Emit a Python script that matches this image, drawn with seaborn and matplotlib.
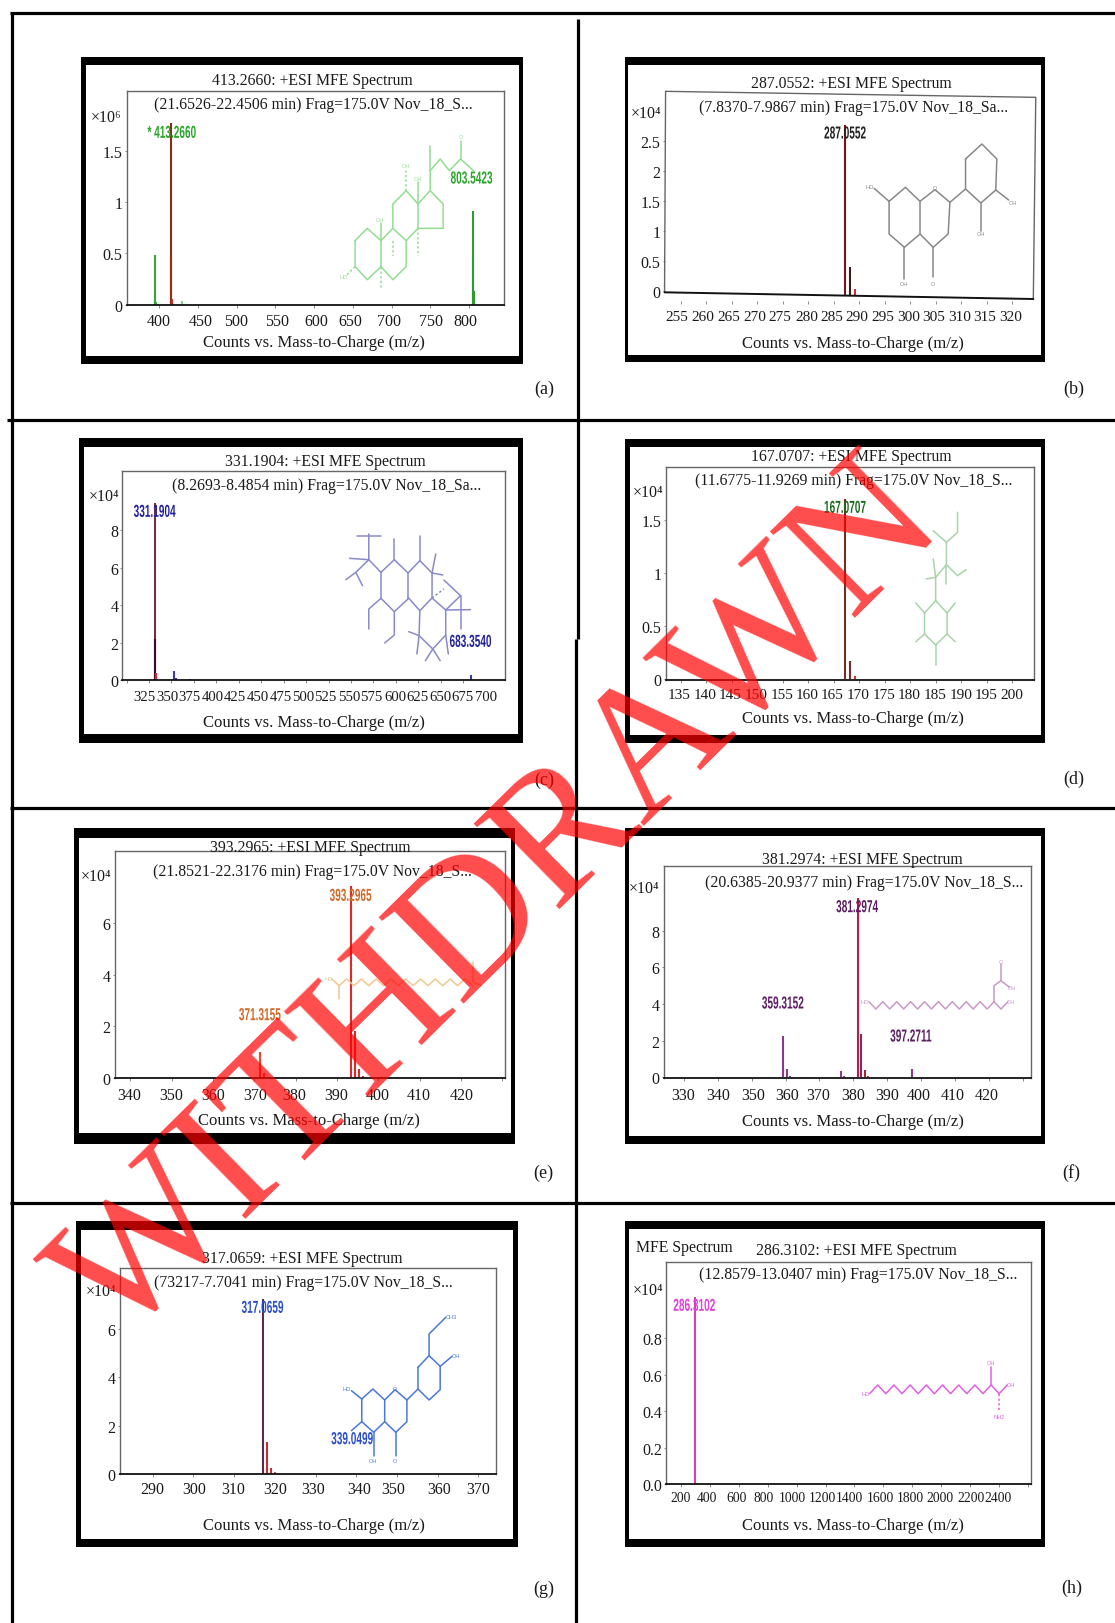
#seaborn
import numpy as np
import pandas as pd
import seaborn as sns
import matplotlib.pyplot as plt
from matplotlib.patches import Rectangle
from matplotlib.patheffects import AbstractPathEffect
from matplotlib.transforms import Affine2D

W, H = 1115, 1624

# peaks
mz_a = [394.3, 395.3, 396.3, 415.0, 416.0, 417.0, 430.0, 804.5, 805.0, 806.0]
counts_a = [0.487, 0.12, 0.03, 1.77, 0.47, 0.06, 0.04, 0.91, 0.47, 0.13]
colors_a = ['#35a835', '#35a835', '#35a835', '#8a2a18', '#a02818', '#c03020', '#7fd07f', '#2f9a2f', '#2f9a2f', '#2f9a2f']

mz_b = [287.2, 288.2, 289.2]
counts_b = [2.76, 0.4, 0.03]
colors_b = ['#7a1414', '#3a1a1a', '#d03030']

mz_c = [331.2, 332.2, 333.2, 353.0, 355.0, 371.0, 684.0]
counts_c = [9.47, 2.19, 0.37, 0.5, 0.1, 0.04, 0.27]
colors_c = ['#7a2a4a', '#3a0a2a', '#e02828', '#3a3ab0', '#3a3ab0', '#3a3ab0', '#3a3ab0']

mz_d = [167.2, 168.2, 169.2]
counts_d = [1.7, 0.17, 0.03]
colors_d = ['#6b3320', '#7a2a2a', '#d03030']

mz_e = [371.5, 372.4, 393.3, 394.3, 395.3, 396.3]
counts_e = [0.98, 0.2, 7.45, 1.82, 0.33, 0.05]
colors_e = ['#e84a2a', '#e84a2a', '#e02828', '#e02828', '#e02828', '#e02828']

mz_f = [359.3, 360.3, 361.4, 376.5, 377.4, 381.3, 382.3, 383.4, 384.3, 397.3]
counts_f = [2.27, 0.45, 0.05, 0.35, 0.05, 9.8, 2.36, 0.4, 0.1, 0.45]
colors_f = ['#8a3a8a', '#8a3a8a', '#8a3a8a', '#8a3a8a', '#8a3a8a', '#b81d4a', '#8a2a5a', '#a02a3a', '#c03030', '#8a3a8a']

mz_g = [317.07, 318.1, 319.1, 320.0]
counts_g = [7.25, 1.32, 0.25, 0.06]
colors_g = ['#5a2a4a', '#c03030', '#c03030', '#d05050']

mz_h = [294.0]
counts_h = [1.025]
colors_h = ['#d040c0']

titles = ['413.2660: +ESI MFE Spectrum', '287.0552: +ESI MFE Spectrum', '331.1904: +ESI MFE Spectrum',
          '167.0707: +ESI MFE Spectrum', '393.2965: +ESI MFE Spectrum', '381.2974: +ESI MFE Spectrum',
          '317.0659: +ESI MFE Spectrum', '286.3102: +ESI MFE Spectrum']
subtitles = ['(21.6526-22.4506 min) Frag=175.0V Nov_18_S...', '(7.8370-7.9867 min) Frag=175.0V Nov_18_Sa...',
             '(8.2693-8.4854 min) Frag=175.0V Nov_18_Sa...', '(11.6775-11.9269 min) Frag=175.0V Nov_18_S...',
             '(21.8521-22.3176 min) Frag=175.0V Nov_18_S...', '(20.6385-20.9377 min) Frag=175.0V Nov_18_S...',
             '(73217-7.7041 min) Frag=175.0V Nov_18_S...', '(12.8579-13.0407 min) Frag=175.0V Nov_18_S...']
xlabel = 'Counts vs. Mass-to-Charge (m/z)'

# geometry below is in crop units of the zoomed reference, relative to a panel offset
panels = [
    dict(tag='(a)', off=(0, 0), frame=(220, 175, 1415, 1095), inner=(232, 198, 1403, 1072), box=(342, 277, 1362, 917),
         mz=mz_a, counts=counts_a, colors=colors_a,
         ticks=np.arange(400, 801, 50), tick_px=(430, 1268), lab_px=[428, 543, 637, 750, 855, 947, 1052, 1165, 1258], lab_y=965,
         y0=917, yunit=308, yticks=[0, 0.5, 1, 1.5], ylabs=['0', '0.5', '1', '1.5'], exp='×10⁶', exp_pos=(328, 355),
         title=(843, 243), sub=(848, 315), xl=(848, 1030), tagpos=(1472, 1168)),
    dict(tag='(b)', off=(570, 0), frame=(158, 175, 1368, 1090), inner=(168, 198, 1356, 1067), box=(272, 277, 1340, 905),
         mz=mz_b, counts=counts_b, colors=colors_b, labsize=11,
         ticks=np.arange(255, 321, 5), tick_px=(318, 1272), lab_px=[308, 382, 458, 532, 605, 680, 752, 825, 900, 973, 1047, 1120, 1193, 1268], lab_y=955,
         y0=875, yunit=180, yticks=[0, 0.5, 1, 1.5, 2, 2.5], ylabs=['0', '0.5', '1', '1.5', '2', '2.5'], exp='×10⁴', exp_pos=(262, 343),
         title=(810, 252), sub=(815, 325), xl=(815, 1032), tagpos=(1448, 1168), skew=True, base=-0.07),
    dict(tag='(c)', off=(0, 420), frame=(213, 58, 1415, 972), inner=(226, 83, 1400, 945), box=(331, 155, 1365, 783),
         mz=mz_c, counts=counts_c, colors=colors_c, labsize=10.6,
         ticks=np.arange(300, 701, 25), tick_px=(342, 1313),
         lab_px=[390, 452, 513, 575, 635, 698, 760, 820, 880, 945, 1005, 1068, 1130, 1190, 1250, 1313], lab_vals=np.arange(325, 701, 25), lab_y=835,
         y0=783, yunit=56.1, yticks=[0, 2, 4, 6, 8], ylabs=['0', '2', '4', '6', '8'], exp='×10⁴', exp_pos=(322, 232),
         title=(879, 125), sub=(883, 197), xl=(848, 910), tagpos=(1472, 1080)),
    dict(tag='(d)', off=(570, 420), frame=(158, 60, 1368, 972), inner=(172, 85, 1356, 948), box=(275, 145, 1335, 782),
         mz=mz_d, counts=counts_d, colors=colors_d, labsize=11,
         ticks=np.arange(135, 201, 5), tick_px=(318, 1272), lab_px=[315, 390, 462, 535, 610, 683, 755, 830, 905, 977, 1050, 1125, 1198, 1270], lab_y=830,
         y0=780, yunit=318, yticks=[0, 0.5, 1, 1.5], ylabs=['0', '0.5', '1', '1.5'], exp='×10⁴', exp_pos=(268, 220),
         title=(810, 112), sub=(815, 183), xl=(815, 898), tagpos=(1448, 1078)),
    dict(tag='(e)', off=(0, 810), frame=(199, 57, 1393, 1005), inner=(214, 88, 1381, 973), box=(310, 127, 1365, 806),
         mz=mz_e, counts=counts_e, colors=colors_e,
         ticks=np.arange(340, 431, 10), tick_px=(352, 1358), lab_px=[350, 463, 577, 690, 795, 908, 1020, 1133, 1248], lab_vals=np.arange(340, 421, 10), lab_y=858,
         y0=806, yunit=77.3, yticks=[0, 2, 4, 6], ylabs=['0', '2', '4', '6'], exp='×10⁴', exp_pos=(300, 202),
         title=(840, 115), sub=(845, 187), xl=(835, 932), tagpos=(1470, 1090)),
    dict(tag='(f)', off=(570, 810), frame=(158, 57, 1368, 1005), inner=(170, 80, 1356, 980), box=(270, 172, 1327, 807),
         mz=mz_f, counts=counts_f, colors=colors_f,
         ticks=np.arange(330, 431, 10), tick_px=(328, 1302), lab_px=[326, 426, 526, 626, 715, 814, 912, 1002, 1100, 1200], lab_vals=np.arange(330, 421, 10), lab_y=858,
         y0=805, yunit=55, yticks=[0, 2, 4, 6, 8], ylabs=['0', '2', '4', '6', '8'], exp='×10⁴', exp_pos=(258, 238),
         title=(840, 150), sub=(845, 220), xl=(815, 936), tagpos=(1442, 1090)),
    dict(tag='(g)', off=(0, 1200), frame=(206, 67, 1400, 1043), inner=(218, 92, 1387, 1020), box=(324, 208, 1340, 826),
         mz=mz_g, counts=counts_g, colors=colors_g,
         ticks=np.arange(290, 371, 10), tick_px=(413, 1293), lab_px=[412, 525, 630, 743, 847, 970, 1063, 1188, 1292], lab_y=870,
         y0=824, yunit=72.2, yticks=[0, 2, 4, 6], ylabs=['0', '2', '4', '6'], exp='×10⁴', exp_pos=(315, 275),
         title=(816, 178), sub=(820, 248), xl=(848, 977), tagpos=(1470, 1168)),
    dict(tag='(h)', off=(570, 1200), frame=(158, 67, 1368, 1045), inner=(170, 90, 1356, 1020), box=(277, 190, 1325, 856),
         mz=mz_h, counts=counts_h, colors=colors_h, labsize=9.8,
         ticks=np.arange(200, 2601, 200), tick_px=(320, 1317), lab_px=[318, 394, 480, 558, 640, 725, 805, 893, 978, 1063, 1153, 1232], lab_vals=np.arange(200, 2401, 200), lab_y=900,
         y0=856, yunit=547.5, yticks=[0, 0.2, 0.4, 0.6, 0.8], ylabs=['0.0', '0.2', '0.4', '0.6', '0.8'], exp='×10⁴', exp_pos=(268, 272),
         title=(825, 153), sub=(830, 225), xl=(815, 977), tagpos=(1445, 1165)),
]

# peak labels: panel, text, x, y, colour
peak_labels = [
    (0, '* 413.2660', 465, 403, '#2aa52a'), (0, '803.5423', 1275, 540, '#2aa52a'),
    (1, '287.0552', 792, 405, '#222222'),
    (2, '331.1904', 418, 280, '#22229a'), (2, '683.3540', 1272, 670, '#22229a'),
    (3, '167.0707', 791, 268, '#1e6b1e'),
    (4, '393.2965', 948, 262, '#d0692a'), (4, '371.3155', 703, 620, '#d0692a'),
    (5, '381.2974', 826, 296, '#5a2060'), (5, '359.3152', 613, 585, '#5a2060'), (5, '397.2711', 981, 684, '#5a2060'),
    (6, '317.0659', 710, 328, '#2a4ec8'), (6, '339.0499', 952, 722, '#2a4ec8'),
    (7, '286.3102', 358, 322, '#e040d8'),
]


def zigzag(x0, x1, ya, yb, step):
    xs = np.arange(x0, x1 + 1, step)
    return [(x, ya if i % 2 == 0 else yb) for i, x in enumerate(xs)]


# the molecule sketches, one entry per panel: colour, bonds, dashed bonds, atom labels
mol = {
    0: ('#93dd93',
        [[(960, 725), (993, 688), (1030, 725), (1030, 803), (993, 842), (960, 803), (960, 725)],
         [(1030, 725), (1062, 688), (1098, 725), (1098, 803), (1062, 842), (1030, 803)],
         [(1062, 688), (1062, 615), (1098, 575), (1130, 615), (1130, 688), (1098, 725)],
         [(1130, 615), (1163, 575), (1198, 615), (1198, 688), (1130, 688)],
         [(1163, 575), (1163, 515), (1190, 480), (1215, 515), (1245, 480), (1280, 515)],
         [(1245, 480), (1245, 425)], [(1163, 515), (1163, 440)], [(1130, 615), (1130, 550)], [(1030, 725), (1030, 672)]],
        [[(1098, 575), (1098, 510)], [(1030, 803), (1030, 870)], [(1062, 725), (1062, 770)], [(1130, 688), (1130, 770)], [(960, 803), (935, 830)]],
        [(928, 832, 'HO'), (1028, 660, 'OH'), (1097, 500, 'OH'), (1130, 538, 'OH'), (1245, 412, 'O')]),
    1: ('#888888',
        [[(918, 607), (965, 565), (1007, 607), (1007, 705), (962, 745), (918, 705), (918, 607)],
         [(1007, 607), (1050, 572), (1093, 610), (1088, 705), (1045, 745), (1007, 705)],
         [(1138, 480), (1185, 435), (1228, 480), (1225, 573), (1182, 612), (1138, 570), (1138, 480)],
         [(1093, 610), (1138, 570)], [(1225, 573), (1262, 603)], [(1182, 612), (1182, 695)],
         [(962, 745), (962, 840)], [(1045, 745), (1045, 835)], [(918, 607), (875, 568)]],
        [],
        [(862, 562, 'HO'), (1275, 610, 'OH'), (1182, 703, 'OH'), (960, 852, 'OH'), (1045, 852, 'O'), (1050, 565, 'O')]),
    2: ('#8a8acb',
        [[(1030, 460), (1066, 422), (1103, 462), (1103, 540), (1066, 578), (1030, 538), (1030, 460)],
         [(1103, 462), (1135, 425), (1168, 462), (1168, 537), (1135, 575), (1103, 535)],
         [(1168, 537), (1205, 573), (1245, 530), (1200, 483)],
         [(1205, 573), (1205, 648), (1170, 690), (1133, 650), (1135, 575)],
         [(1030, 460), (997, 422), (997, 345)], [(965, 350), (1030, 350)], [(997, 422), (962, 460), (935, 482)],
         [(962, 460), (980, 500)], [(997, 422), (945, 418)], [(1066, 422), (1066, 360)], [(1135, 425), (1135, 350)],
         [(1168, 462), (1178, 405)], [(1168, 462), (1197, 468)], [(1030, 538), (997, 570), (997, 630)],
         [(1066, 578), (1066, 648), (1040, 672)], [(1133, 650), (1105, 638)], [(1133, 650), (1127, 705)],
         [(1170, 690), (1150, 725)], [(1170, 690), (1190, 725)], [(1205, 648), (1212, 705)], [(1205, 573), (1272, 572)],
         [(1245, 530), (1245, 630)]],
        [[(1168, 537), (1200, 510)]], []),
    3: ('#a8d4a8',
        [[(1052, 545), (1085, 582), (1085, 645), (1052, 678), (1020, 645), (1020, 582), (1052, 545)],
         [(1052, 545), (1052, 475), (1083, 437), (1083, 370), (1115, 340), (1115, 280)], [(1083, 370), (1045, 335)],
         [(1083, 437), (1115, 470), (1140, 452)], [(1052, 475), (1025, 480)], [(1052, 475), (1045, 420)], [(1083, 437), (1083, 495)],
         [(1085, 582), (1108, 552)], [(1020, 582), (995, 552)], [(1020, 645), (995, 668)], [(1085, 645), (1108, 668)], [(1052, 678), (1052, 738)]],
        [], []),
    4: ('#f0c890',
        [zigzag(897, 1280, 510, 530, 20), [(917, 530), (917, 570)], [(1280, 520), (1280, 460)], [(1280, 520), (1300, 530)]],
        [], [(888, 508, 'HO')]),
    5: ('#c79ac7',
        [zigzag(860, 1260, 578, 600, 20), [(1220, 578), (1220, 530), (1240, 515), (1240, 465)], [(1240, 515), (1265, 535)]],
        [], [(848, 577, 'HO'), (1270, 577, 'OH'), (1272, 537, 'OH'), (1240, 458, 'O')]),
    6: ('#4a78d8',
        [[(978, 600), (1008, 570), (1040, 603), (1040, 668), (1010, 700), (978, 668), (978, 600)],
         [(1040, 603), (1068, 572), (1100, 603), (1100, 668), (1070, 700), (1040, 668)],
         [(1130, 505), (1160, 470), (1190, 502), (1190, 572), (1160, 603), (1130, 570), (1130, 505)],
         [(1100, 603), (1130, 570)], [(1160, 470), (1160, 405), (1205, 355)], [(1190, 502), (1222, 472)],
         [(978, 600), (950, 575)], [(978, 668), (950, 695)], [(1010, 700), (1010, 770)], [(1070, 700), (1070, 770)]],
        [],
        [(1220, 352, 'CH3'), (1233, 470, 'OH'), (936, 570, 'HO'), (1008, 786, 'OH'), (1068, 786, 'O'), (1068, 568, 'O')]),
    7: ('#e060e0',
        [zigzag(862, 1260, 584, 558, 23.3), [(1212, 558), (1212, 505)]],
        [[(1235, 584), (1235, 635)]],
        [(852, 585, 'HO'), (1270, 557, 'OH'), (1212, 490, 'OH'), (1235, 652, 'NH2')]),
}


class Squeeze(AbstractPathEffect):
    # narrows a text about its own middle, the peak labels are a condensed face
    def __init__(self, factor):
        super().__init__()
        self.factor = factor

    def draw_path(self, renderer, gc, tpath, affine, rgbFace=None):
        mid = tpath.get_extents().x0 + tpath.get_extents().width / 2
        squeeze = Affine2D().translate(-mid, 0).scale(self.factor, 1).translate(mid, 0)
        renderer.draw_path(gc, tpath, squeeze + affine, rgbFace)


sns.set_theme(style='white')
plt.rcParams['font.family'] = ['Liberation Serif', 'DejaVu Sans']
plt.rcParams['text.color'] = '#1a1a1a'

fig = plt.figure(figsize=(W / 100, H / 100), dpi=100, facecolor='white')

back = fig.add_axes([0, 0, 1, 1], zorder=0)
back.set_xlim(0, W)
back.set_ylim(H, 0)
back.axis('off')
top = fig.add_axes([0, 0, 1, 1], zorder=5)
top.set_xlim(0, W)
top.set_ylim(H, 0)
top.axis('off')

# page grid
for y0, x0 in [(13.5, 10), (421, 7), (809, 10), (1204, 10)]:
    back.plot([x0, W], [y0, y0], color='black', lw=2.3, solid_capstyle='butt')
back.plot([12, 12], [13, H], color='black', lw=2.3, solid_capstyle='butt')
back.plot([578, 578], [20, 640], color='black', lw=2.3, solid_capstyle='butt')
back.plot([576, 576], [640, H], color='black', lw=2.3, solid_capstyle='butt')

for i, p in enumerate(panels):
    ox, oy = p['off']
    # crops of the two columns came back with different x scales
    sx = 1568 / 580 if ox == 0 else 1568 / 545

    def px(z):
        return ox + z / sx

    def py(z):
        return oy + z / 3

    fx0, fy0, fx1, fy1 = p['frame']
    back.add_patch(Rectangle((px(fx0), py(fy0)), (fx1 - fx0) / sx, (fy1 - fy0) / 3, color='black', lw=0))
    ix0, iy0, ix1, iy1 = p['inner']
    back.add_patch(Rectangle((px(ix0), py(iy0)), (ix1 - ix0) / sx, (iy1 - iy0) / 3, color='white', lw=0))

    l, t, r, b = p['box']
    ax = fig.add_axes([px(l) / W, 1 - py(b) / H, (r - l) / sx / W, (b - t) / 3 / H], zorder=1)
    ax.patch.set_alpha(0)

    ticks = p['ticks']
    pa, pb = p['tick_px']
    per = (ticks[-1] - ticks[0]) / (pb - pa)
    to_x = lambda z: ticks[0] + (z - pa) * per
    stems = pd.DataFrame({
        'mz': np.repeat(p['mz'], 2),
        'counts': np.ravel([[p.get('base', 0), c] for c in p['counts']]),
        'peak': np.repeat([str(k) for k in range(len(p['mz']))], 2),
    })
    sns.lineplot(data=stems, x='mz', y='counts', hue='peak', palette=p['colors'], estimator=None, sort=False,
                 errorbar=None, legend=False, lw=1.5, solid_capstyle='butt', ax=ax)
    ax.set_xlim(to_x(l), to_x(r))
    ax.set_ylim((p['y0'] - b) / p['yunit'], (p['y0'] - t) / p['yunit'])
    ax.set_xlabel('')
    ax.set_ylabel('')

    lab_vals = p.get('lab_vals', ticks)
    ax.set_xticks([to_x(z) for z in p['lab_px']], [str(v) for v in lab_vals])
    ax.set_xticks(ticks, minor=True)
    ax.set_yticks(p['yticks'], p['ylabs'])
    pad = ((p['lab_y'] - b) / 3 - 7.5) * 0.72
    ax.tick_params(axis='x', which='major', length=0, pad=pad, labelsize=p.get('labsize', 11.5), labelcolor='#1a1a1a')
    ax.tick_params(axis='x', which='minor', length=2, width=0.6, color='#777777', bottom=True)
    ax.tick_params(axis='y', length=1.5, width=0.6, color='#777777', pad=1.5, labelsize=11.5, labelcolor='#1a1a1a', left=True)

    for s in ax.spines.values():
        s.set_color('#666666')
        s.set_linewidth(1.0)
    ax.spines['bottom'].set_color('#111111')
    ax.spines['bottom'].set_linewidth(1.3)

    if p.get('skew'):
        for s in ax.spines.values():
            s.set_visible(False)
        top.plot([px(275), px(1340), px(1333)], [py(277), py(295), py(900)], color='#666666', lw=1.0)
        top.plot([px(275), px(272)], [py(277), py(880)], color='#666666', lw=1.0)
        top.plot([px(272), px(1333)], [py(880), py(900)], color='#111111', lw=1.4)

    # molecule goes on the page layer, below the labels
    color, bonds, dashed, atoms = mol[i]
    for line in bonds:
        xy = np.array(line, dtype=float)
        top.plot(px(xy[:, 0]), py(xy[:, 1]), color=color, lw=1.1, solid_capstyle='round')
    for line in dashed:
        xy = np.array(line, dtype=float)
        top.plot(px(xy[:, 0]), py(xy[:, 1]), color=color, lw=1.1, ls=(0, (1.5, 1.5)))
    for ax_, ay_, s in atoms:
        top.text(px(ax_), py(ay_), s, color=color, fontsize=4, ha='center', va='center', family='Liberation Sans')

    top.text(px(p['title'][0]), py(p['title'][1]), titles[i], ha='center', va='center', fontsize=11.3)
    top.text(px(p['sub'][0]), py(p['sub'][1]), subtitles[i], ha='center', va='center', fontsize=11.3)
    top.text(px(p['xl'][0]), py(p['xl'][1]), xlabel, ha='center', va='center', fontsize=12)
    top.text(px(p['exp_pos'][0]), py(p['exp_pos'][1]), p['exp'], ha='right', va='center', fontsize=11.5)
    top.text(px(p['tagpos'][0]), py(p['tagpos'][1]), p['tag'], ha='center', va='center', fontsize=13)

for i, s, zx, zy, c in peak_labels:
    ox, oy = panels[i]['off']
    sx = 1568 / 580 if ox == 0 else 1568 / 545
    top.text(ox + zx / sx, oy + zy / 3, s, color=c, ha='center', va='center', fontsize=12.5,
             family='Liberation Sans', fontweight='bold', path_effects=[Squeeze(0.58)])
top.text(570 + 190 / (1568 / 545), 1200 + 145 / 3, 'MFE Spectrum', ha='left', va='center', fontsize=11.3)

# the stamp across the whole page
top.text(501, 904, 'WITHDRAWN', color='red', alpha=0.7, fontsize=133, rotation=44.6, rotation_mode='anchor',
         ha='center', va='center', zorder=10)

fig.savefig('out.png', dpi=100, facecolor='white')
